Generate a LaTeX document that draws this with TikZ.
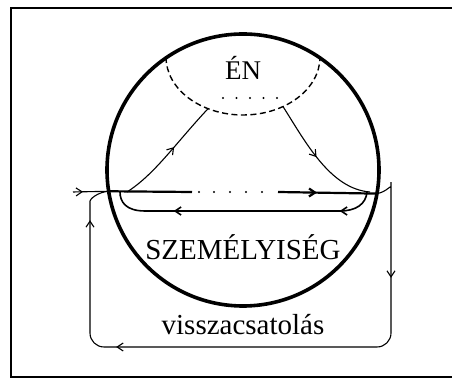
\documentclass[tikz,border=0pt]{standalone}
\usepackage{fontspec}
\setmainfont{Liberation Serif}
\usetikzlibrary{arrows.meta, decorations.markings, calc}
\tikzset{
  vtip/.tip={Straight Barb[length=6pt,width=8pt]},
  vonal/.style={line width=1.1pt},
  nyil/.style={postaction={decorate, decoration={markings,
      mark=at position #1 with {\arrow{vtip}}}}},
  felirat/.style={font=\fontsize{#1}{#1}\selectfont, inner sep=0pt, anchor=base},
}

\begin{document}
\begin{tikzpicture}[x=1pt, y=1pt]
  \useasboundingbox (0,0) rectangle (452,379);
  % keret
  \draw[line width=1.6pt] (11,2) rectangle (456,371);
  % személyiség köre
  \node[circle, draw, line width=3.6pt, minimum size=272pt, inner sep=0pt, outer sep=0pt] (kor) at (243,209) {};
  \coordinate (bal) at (kor.189.3);
  \coordinate (jobb) at (kor.350.7);
  \coordinate (be) at (73,187);
  % én (szaggatott ellipszis)
  \coordinate (enk) at (243,322);
  \draw[line width=1.4pt, dash pattern=on 6pt off 3.5pt] (166,322) arc[start angle=180, end angle=360, x radius=77, y radius=58];
  \path (enk) ++(243:77 and 58) coordinate (e1);
  \path (enk) ++(301.3:77 and 58) coordinate (e2);
  \foreach \x in {223,236.5,...,278}{\fill (\x,281) circle (1.1pt);}
  \node[felirat=27] (en) at (243,299) {ÉN};
  % vízszintes vonal
  \coordinate (p1) at (192,187);
  \coordinate (p2) at (278,187);
  \draw[vonal, nyil=10pt] (be) -- (bal);
  \draw[line width=2.2pt] (bal) -- (p1);
  \foreach \x in {199,214,230,246,262}{\fill (\x,187) circle (1.1pt);}
  \draw[line width=2.2pt, nyil=39pt] (p2) -- (jobb);
  % ágak az énhez
  \coordinate (a1) at (127,187);
  \coordinate (a2) at (370,187);
  \draw[vonal, nyil=0.56] (a1) .. controls (155,205) and (175,235) .. (e1);
  \draw[vonal, nyil=0.48] (e2) .. controls (305,238) and (330,190) .. (a2);
  % visszatérő ág
  \coordinate (r1) at (367,187);
  \coordinate (r2) at (120,187);
  \draw[line width=1.6pt, nyil=37pt, nyil=203pt] (r1) .. controls (366,175) and (356,168) .. (340,168)
    -- (145,168) .. controls (126,168) and (120,177) .. (r2);
  \node[felirat=29] (szem) at (243,119) {SZEMÉLYISÉG};
  % visszacsatolás
  \draw[vonal, rounded corners=14pt, nyil=118pt, nyil=456pt, nyil=603pt]
    (jobb) .. controls (387,187) and (391,195) .. (391,205)
    |- (90,32) -- (90,164) .. controls (90,180) and (98,187) .. (bal);
  \node[felirat=29] (vissza) at (243,44) {visszacsatolás};
\end{tikzpicture}
\end{document}
